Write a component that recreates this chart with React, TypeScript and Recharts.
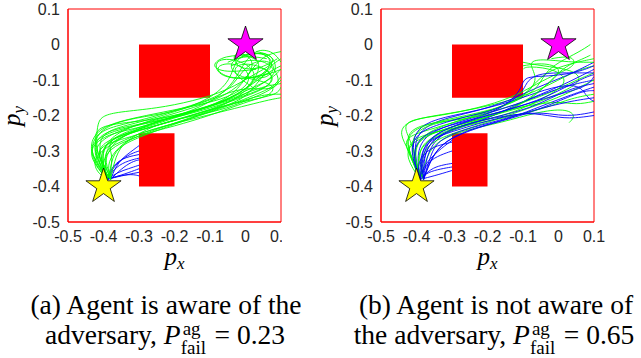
import React from 'react';
import { ComposedChart, Line, Scatter, XAxis, YAxis, ReferenceArea } from 'recharts';

type Pt = [number, number];

const xTicks = [-0.5, -0.4, -0.3, -0.2, -0.1, 0, 0.1];
const yTicks = [-0.5, -0.4, -0.3, -0.2, -0.1, 0, 0.1];

const startPos = [{ x: -0.4, y: -0.4 }];
const goalPos = [{ x: 0, y: 0 }];

// obstacles: [x1, x2, y1, y2]
const obstacles: [number, number, number, number][] = [
  [-0.3, -0.1, -0.15, 0],
  [-0.3, -0.2, -0.4, -0.25],
];

// (a) agent aware of the adversary
const leftBlue: Pt[][] = [
  [[-0.39, -0.38], [-0.35, -0.37], [-0.3, -0.36]],
  [[-0.39, -0.38], [-0.36, -0.36], [-0.33, -0.35], [-0.3, -0.34]],
  [[-0.39, -0.38], [-0.37, -0.35], [-0.34, -0.33], [-0.3, -0.32]],
  [[-0.39, -0.38], [-0.37, -0.34], [-0.33, -0.31], [-0.3, -0.3]],
  [[-0.38, -0.38], [-0.36, -0.33], [-0.32, -0.3], [-0.3, -0.285]],
  [[-0.39, -0.38], [-0.34, -0.365], [-0.3, -0.35]],
  [[-0.38, -0.38], [-0.35, -0.35], [-0.32, -0.33], [-0.3, -0.325]],
  [[-0.39, -0.38], [-0.38, -0.35], [-0.35, -0.32], [-0.3, -0.31]],
  [[-0.39, -0.38], [-0.36, -0.37], [-0.32, -0.365], [-0.3, -0.37]],
];

const leftGreen: Pt[][] = [
  [[-0.39, -0.38], [-0.42, -0.32], [-0.42, -0.22], [-0.4, -0.2], [-0.36, -0.19], [-0.25, -0.18], [-0.15, -0.16], [-0.05, -0.13], [0.03, -0.08], [0.09, -0.05], [0.06, -0.02], [0.0, -0.03], [-0.05, -0.05]],
  [[-0.39, -0.38], [-0.41, -0.33], [-0.4, -0.28], [-0.34, -0.25], [-0.27, -0.23], [-0.18, -0.2], [-0.08, -0.17], [0.0, -0.13], [0.07, -0.1], [0.1, -0.07]],
  [[-0.38, -0.38], [-0.43, -0.31], [-0.41, -0.27], [-0.35, -0.24], [-0.25, -0.21], [-0.15, -0.19], [-0.05, -0.16], [0.04, -0.13], [0.09, -0.1], [0.05, -0.06], [-0.02, -0.05], [-0.04, -0.08], [0.02, -0.12]],
  [[-0.38, -0.37], [-0.4, -0.32], [-0.38, -0.27], [-0.31, -0.245], [-0.22, -0.22], [-0.12, -0.19], [-0.04, -0.17], [0.03, -0.14], [0.08, -0.12], [0.1, -0.09]],
  [[-0.39, -0.37], [-0.42, -0.28], [-0.39, -0.24], [-0.3, -0.22], [-0.2, -0.19], [-0.1, -0.155], [-0.04, -0.1], [-0.03, -0.04], [0.02, -0.02], [0.07, -0.03], [0.08, -0.07], [0.03, -0.09]],
  [[-0.38, -0.38], [-0.37, -0.33], [-0.35, -0.28], [-0.3, -0.255], [-0.2, -0.23], [-0.1, -0.2], [-0.02, -0.17], [0.04, -0.15], [0.09, -0.14], [0.1, -0.12]],
  [[-0.39, -0.38], [-0.43, -0.3], [-0.42, -0.25], [-0.37, -0.23], [-0.28, -0.21], [-0.18, -0.18], [-0.08, -0.15], [-0.03, -0.11], [0.0, -0.06], [0.05, -0.04], [0.09, -0.06], [0.06, -0.1], [0.0, -0.09]],
  [[-0.38, -0.38], [-0.39, -0.34], [-0.37, -0.3], [-0.32, -0.26], [-0.24, -0.22], [-0.14, -0.2], [-0.05, -0.18], [0.02, -0.15], [0.07, -0.13], [0.1, -0.1]],
  [[-0.39, -0.38], [-0.41, -0.31], [-0.38, -0.26], [-0.32, -0.23], [-0.22, -0.2], [-0.12, -0.17], [-0.05, -0.14], [0.0, -0.1], [0.03, -0.05], [-0.01, -0.02], [-0.04, -0.03], [-0.02, -0.07], [0.04, -0.07], [0.09, -0.04]],
  [[-0.38, -0.38], [-0.4, -0.35], [-0.42, -0.3], [-0.39, -0.27], [-0.33, -0.25], [-0.26, -0.22], [-0.16, -0.19], [-0.06, -0.16], [0.01, -0.12], [0.06, -0.08], [0.1, -0.06]],
  [[-0.39, -0.38], [-0.42, -0.33], [-0.44, -0.29], [-0.41, -0.26], [-0.36, -0.24], [-0.27, -0.22], [-0.17, -0.2], [-0.07, -0.17], [0.02, -0.14], [0.08, -0.11], [0.07, -0.07], [0.02, -0.06], [0.0, -0.1]],
  [[-0.39, -0.38], [-0.4, -0.32], [-0.36, -0.26], [-0.28, -0.235], [-0.2, -0.215], [-0.1, -0.185], [-0.02, -0.15], [0.05, -0.11], [0.09, -0.08], [0.08, -0.03], [0.03, -0.02]],
  [[-0.39, -0.38], [-0.41, -0.3], [-0.37, -0.26], [-0.29, -0.24], [-0.19, -0.21], [-0.09, -0.18], [-0.01, -0.16], [0.06, -0.15], [0.09, -0.12], [0.04, -0.1], [-0.03, -0.09], [-0.05, -0.05], [0.0, -0.03], [0.06, -0.04]],
  [[-0.38, -0.38], [-0.42, -0.34], [-0.43, -0.27], [-0.38, -0.24], [-0.3, -0.225], [-0.2, -0.205], [-0.1, -0.175], [-0.03, -0.14], [0.01, -0.08], [0.05, -0.03], [0.1, -0.02]],
  [[-0.39, -0.38], [-0.41, -0.35], [-0.44, -0.3], [-0.42, -0.25], [-0.36, -0.215], [-0.26, -0.2], [-0.16, -0.18], [-0.06, -0.14], [0.0, -0.12], [0.08, -0.13], [0.1, -0.1], [0.07, -0.05], [0.01, -0.04], [-0.04, -0.06]],
  [[-0.38, -0.38], [-0.38, -0.33], [-0.36, -0.29], [-0.31, -0.265], [-0.23, -0.235], [-0.13, -0.2], [-0.05, -0.17], [0.0, -0.15], [0.04, -0.1], [0.08, -0.05], [0.05, -0.02], [-0.01, -0.03]],
  [[-0.39, -0.38], [-0.43, -0.33], [-0.44, -0.27], [-0.4, -0.23], [-0.33, -0.21], [-0.23, -0.19], [-0.13, -0.17], [-0.05, -0.15], [0.02, -0.11], [0.0, -0.06], [-0.06, -0.05], [-0.09, -0.07], [-0.04, -0.1], [0.05, -0.09], [0.1, -0.07]],
  [[-0.38, -0.38], [-0.4, -0.33], [-0.39, -0.29], [-0.34, -0.27], [-0.3, -0.25], [-0.21, -0.225], [-0.11, -0.195], [-0.03, -0.165], [0.05, -0.14], [0.1, -0.14]],
  [[-0.39, -0.38], [-0.42, -0.36], [-0.43, -0.32], [-0.39, -0.29], [-0.35, -0.26], [-0.27, -0.225], [-0.17, -0.195], [-0.07, -0.165], [0.0, -0.13], [0.04, -0.08], [-0.02, -0.04], [-0.09, -0.04], [-0.08, -0.09], [0.0, -0.1], [0.07, -0.08]],
  [[-0.38, -0.38], [-0.39, -0.35], [-0.42, -0.31], [-0.4, -0.28], [-0.32, -0.26], [-0.25, -0.235], [-0.15, -0.21], [-0.07, -0.19], [0.01, -0.17], [0.07, -0.155], [0.1, -0.15]],
  [[-0.39, -0.38], [-0.37, -0.32], [-0.39, -0.28], [-0.36, -0.255], [-0.29, -0.23], [-0.19, -0.2], [-0.11, -0.17], [-0.04, -0.12], [-0.01, -0.06], [0.03, -0.01], [0.08, -0.02], [0.1, -0.05]],
  [[-0.39, -0.38], [-0.41, -0.32], [-0.43, -0.26], [-0.41, -0.23], [-0.34, -0.22], [-0.24, -0.21], [-0.14, -0.185], [-0.04, -0.155], [0.04, -0.12], [0.1, -0.11]],
  [[-0.38, -0.38], [-0.41, -0.34], [-0.38, -0.29], [-0.33, -0.27], [-0.27, -0.245], [-0.18, -0.215], [-0.08, -0.18], [0.0, -0.14], [0.05, -0.06], [0.02, -0.03], [-0.06, -0.03], [-0.1, -0.06], [-0.06, -0.08], [0.03, -0.07]],
  [[-0.39, -0.38], [-0.44, -0.32], [-0.43, -0.28], [-0.38, -0.25], [-0.3, -0.235], [-0.22, -0.21], [-0.12, -0.18], [-0.03, -0.15], [0.03, -0.1], [0.07, -0.06], [0.1, -0.04]],
];

// (b) agent not aware of the adversary
const rightBlue: Pt[][] = [
  [[-0.39, -0.38], [-0.36, -0.35], [-0.33, -0.34], [-0.3, -0.335]],
  [[-0.39, -0.38], [-0.37, -0.33], [-0.33, -0.31], [-0.3, -0.3]],
  [[-0.39, -0.38], [-0.35, -0.37], [-0.3, -0.355]],
  [[-0.39, -0.38], [-0.38, -0.32], [-0.36, -0.27], [-0.3, -0.24], [-0.2, -0.21], [-0.1, -0.16], [0.0, -0.12], [0.06, -0.09], [0.1, -0.07]],
  [[-0.39, -0.38], [-0.4, -0.31], [-0.38, -0.26], [-0.32, -0.23], [-0.22, -0.2], [-0.12, -0.17], [-0.02, -0.13], [0.05, -0.11], [0.1, -0.1]],
  [[-0.38, -0.38], [-0.37, -0.3], [-0.33, -0.25], [-0.25, -0.22], [-0.15, -0.2], [-0.05, -0.19], [0.0, -0.2], [0.05, -0.2], [0.1, -0.19]],
  [[-0.39, -0.38], [-0.41, -0.29], [-0.39, -0.24], [-0.33, -0.21], [-0.24, -0.19], [-0.14, -0.16], [-0.06, -0.12], [0.02, -0.09], [0.1, -0.05]],
  [[-0.38, -0.38], [-0.36, -0.32], [-0.32, -0.27], [-0.24, -0.235], [-0.14, -0.21], [-0.04, -0.17], [0.04, -0.14], [0.1, -0.12]],
  [[-0.39, -0.38], [-0.39, -0.3], [-0.35, -0.25], [-0.27, -0.22], [-0.18, -0.19], [-0.1, -0.14], [-0.09, -0.1], [-0.05, -0.08], [0.02, -0.08], [0.1, -0.08]],
  [[-0.39, -0.38], [-0.42, -0.27], [-0.38, -0.22], [-0.3, -0.2], [-0.2, -0.18], [-0.1, -0.15], [-0.02, -0.12], [0.06, -0.11], [0.08, -0.15], [0.1, -0.16]],
  [[-0.38, -0.38], [-0.35, -0.3], [-0.3, -0.26], [-0.2, -0.225], [-0.1, -0.2], [0.0, -0.16], [0.07, -0.13], [0.1, -0.13]],
  [[-0.39, -0.38], [-0.38, -0.34], [-0.34, -0.3], [-0.3, -0.27]],
  [[-0.38, -0.38], [-0.38, -0.31], [-0.35, -0.26], [-0.28, -0.23], [-0.18, -0.205], [-0.08, -0.18], [0.0, -0.14], [0.05, -0.12], [0.1, -0.11]],
  [[-0.39, -0.38], [-0.37, -0.36], [-0.33, -0.35], [-0.3, -0.345]],
  [[-0.39, -0.38], [-0.4, -0.33], [-0.36, -0.29], [-0.32, -0.28], [-0.3, -0.275]],
  [[-0.39, -0.38], [-0.41, -0.32], [-0.4, -0.27], [-0.35, -0.24], [-0.26, -0.215], [-0.16, -0.19], [-0.08, -0.165], [0.0, -0.14], [0.08, -0.12], [0.1, -0.09]],
  [[-0.38, -0.38], [-0.36, -0.31], [-0.34, -0.27], [-0.27, -0.24], [-0.17, -0.215], [-0.07, -0.185], [0.03, -0.16], [0.1, -0.15]],
  [[-0.39, -0.38], [-0.42, -0.3], [-0.4, -0.25], [-0.34, -0.225], [-0.25, -0.2], [-0.15, -0.18], [-0.1, -0.12], [-0.1, -0.09], [-0.03, -0.09], [0.05, -0.08], [0.1, -0.06]],
  [[-0.39, -0.38], [-0.38, -0.29], [-0.34, -0.245], [-0.25, -0.215], [-0.15, -0.185], [-0.06, -0.16], [0.02, -0.12], [0.08, -0.09], [0.1, -0.085]],
  [[-0.38, -0.38], [-0.39, -0.32], [-0.37, -0.27], [-0.3, -0.245], [-0.2, -0.215], [-0.1, -0.19], [-0.03, -0.2], [0.03, -0.21], [0.1, -0.2]],
];

const rightGreen: Pt[][] = [
  [[-0.39, -0.38], [-0.42, -0.3], [-0.45, -0.25], [-0.43, -0.22], [-0.38, -0.205], [-0.28, -0.19], [-0.18, -0.17], [-0.08, -0.14], [0.0, -0.1], [0.06, -0.07], [0.1, -0.06]],
  [[-0.39, -0.38], [-0.41, -0.33], [-0.44, -0.27], [-0.4, -0.25], [-0.33, -0.23], [-0.23, -0.2], [-0.12, -0.17], [-0.03, -0.14], [0.05, -0.1], [0.1, -0.08]],
  [[-0.38, -0.38], [-0.4, -0.3], [-0.36, -0.26], [-0.28, -0.23], [-0.18, -0.2], [-0.08, -0.16], [-0.02, -0.1], [0.02, -0.06], [0.07, -0.04], [0.09, -0.03]],
  [[-0.39, -0.38], [-0.43, -0.32], [-0.42, -0.28], [-0.36, -0.25], [-0.26, -0.22], [-0.15, -0.19], [-0.06, -0.165], [0.02, -0.13], [0.07, -0.1], [0.04, -0.07], [-0.05, -0.06], [-0.1, -0.05]],
  [[-0.39, -0.38], [-0.37, -0.31], [-0.34, -0.27], [-0.26, -0.24], [-0.16, -0.22], [-0.06, -0.19], [0.02, -0.18], [0.05, -0.2], [0.03, -0.22]],
  [[-0.39, -0.38], [-0.41, -0.3], [-0.38, -0.25], [-0.3, -0.22], [-0.2, -0.19], [-0.1, -0.15], [-0.06, -0.1], [-0.02, -0.07], [0.05, -0.05], [0.1, -0.04]],
  [[-0.38, -0.38], [-0.39, -0.33], [-0.37, -0.28], [-0.3, -0.25], [-0.2, -0.22], [-0.1, -0.185], [0.0, -0.15], [0.06, -0.12], [0.1, -0.1]],
  [[-0.39, -0.38], [-0.42, -0.29], [-0.4, -0.24], [-0.34, -0.22], [-0.24, -0.2], [-0.14, -0.17], [-0.06, -0.13], [-0.04, -0.08], [0.0, -0.05], [0.06, -0.02], [0.09, 0.0]],
  [[-0.39, -0.38], [-0.4, -0.31], [-0.37, -0.27], [-0.3, -0.24], [-0.2, -0.21], [-0.12, -0.19], [-0.04, -0.15], [0.03, -0.11], [0.0, -0.07], [-0.09, -0.06], [-0.1, -0.07]],
  [[-0.39, -0.38], [-0.43, -0.28], [-0.42, -0.24], [-0.36, -0.22], [-0.26, -0.21], [-0.16, -0.19], [-0.08, -0.17], [0.0, -0.16], [0.05, -0.17], [0.1, -0.16]],
  [[-0.38, -0.38], [-0.41, -0.32], [-0.4, -0.27], [-0.33, -0.24], [-0.22, -0.21], [-0.12, -0.18], [-0.04, -0.12], [0.02, -0.07], [-0.04, -0.05], [-0.1, -0.06]],
  [[-0.39, -0.38], [-0.42, -0.31], [-0.43, -0.26], [-0.39, -0.23], [-0.31, -0.21], [-0.21, -0.19], [-0.11, -0.16], [-0.05, -0.1], [-0.09, -0.05], [-0.05, -0.04], [0.03, -0.05], [0.1, -0.05]],
  [[-0.38, -0.38], [-0.4, -0.34], [-0.43, -0.29], [-0.4, -0.26], [-0.32, -0.24], [-0.22, -0.22], [-0.12, -0.2], [-0.04, -0.18], [0.04, -0.15], [0.1, -0.14]],
  [[-0.39, -0.38], [-0.41, -0.28], [-0.44, -0.23], [-0.41, -0.21], [-0.33, -0.2], [-0.23, -0.18], [-0.13, -0.15], [-0.06, -0.11], [0.0, -0.08], [0.05, -0.06], [0.04, -0.03], [-0.02, -0.04]],
];

const toRows = (path: Pt[]) => path.map(([x, y]) => ({ x, y }));

const RED = '#FF0000';
const tickStyle = { fill: '#262626', fontSize: 16, fontFamily: 'Liberation Sans, Arial, sans-serif' };

const starShape = (fill: string) => (props: any) => {
  const { cx, cy } = props;
  const R = 18.5;
  const r = R * 0.382;
  const pts = Array.from({ length: 10 }, (_, i) => {
    const a = -Math.PI / 2 + (i * Math.PI) / 5;
    const rad = i % 2 === 0 ? R : r;
    return `${cx + rad * Math.cos(a)},${cy + rad * Math.sin(a)}`;
  }).join(' ');
  return <polygon points={pts} fill={fill} stroke="#000" strokeWidth={0.8} />;
};

function Panel({ blue, green, width, right, mixed }: { blue: Pt[][]; green: Pt[][]; width: number; right: number; mixed: boolean }) {
  const blueLines = blue.map((p, i) => (
    <Line key={'b' + i} data={toRows(p)} dataKey="y" type="basis" stroke="#0000FF" strokeWidth={0.9} dot={false} activeDot={false} isAnimationActive={false} />
  ));
  const greenLines = green.map((p, i) => (
    <Line key={'g' + i} data={toRows(p)} dataKey="y" type="basis" stroke="#00FF00" strokeWidth={0.9} dot={false} activeDot={false} isAnimationActive={false} />
  ));
  let lines: React.ReactNode[];
  if (mixed) {
    lines = [];
    const n = Math.max(blue.length, green.length);
    for (let i = 0; i < n; i++) {
      if (greenLines[i]) lines.push(greenLines[i]);
      if (blueLines[i]) lines.push(blueLines[i]);
    }
  } else {
    lines = [...blueLines, ...greenLines];
  }
  return (
    <ComposedChart width={width} height={250} margin={{ top: 9, right, bottom: 5, left: 0 }}>
      <XAxis type="number" dataKey="x" domain={[-0.5, 0.1]} ticks={xTicks} interval={0} allowDataOverflow
        tickLine={false} axisLine={{ stroke: RED }} tick={tickStyle} tickMargin={3} height={23} tickFormatter={(v) => String(v)} />
      <YAxis type="number" dataKey="y" domain={[-0.5, 0.1]} ticks={yTicks} interval={0} allowDataOverflow
        tickLine={false} axisLine={{ stroke: RED }} tick={tickStyle} width={68} tickFormatter={(v) => String(v)} />
      {obstacles.map(([x1, x2, y1, y2], i) => (
        <ReferenceArea key={'o' + i} x1={x1} x2={x2} y1={y1} y2={y2} fill={RED} fillOpacity={1} stroke="none" />
      ))}
      {lines}
      <ReferenceArea x1={-0.5} x2={0.1} y1={-0.5} y2={0.1} fill="none" fillOpacity={0} stroke={RED} strokeWidth={1} ifOverflow="visible" />
      <Scatter data={startPos} shape={starShape('#FFFF00')} isAnimationActive={false} />
      <Scatter data={goalPos} shape={starShape('#FF00FF')} isAnimationActive={false} />
    </ComposedChart>
  );
}

const serif = 'Liberation Serif, Times New Roman, serif';

function PFail() {
  return (
    <span style={{ whiteSpace: 'nowrap' }}>
      <i>P</i>
      <span style={{ display: 'inline-block', position: 'relative', width: 27, height: 0 }}>
        <span style={{ position: 'absolute', left: 2, top: -25, fontSize: 19, lineHeight: '19px' }}>ag</span>
        <span style={{ position: 'absolute', left: 0, top: -6, fontSize: 19, lineHeight: '19px' }}>fail</span>
      </span>
    </span>
  );
}

const capLine = (center: number, top: number): React.CSSProperties => ({
  position: 'absolute', left: center - 160, top, width: 320, fontFamily: serif, fontSize: 27.5, lineHeight: '30px',
  color: '#000', textAlign: 'center', whiteSpace: 'nowrap',
});

export default function App() {
  return (
    <div style={{ position: 'absolute', left: 0, top: 0, width: 641, height: 358, background: '#fff', overflow: 'hidden' }}>
      <div style={{ position: 'absolute', left: 0, top: 0, width: 282, height: 250, overflow: 'hidden' }}>
        <Panel blue={leftBlue} green={leftGreen} width={282} right={1} mixed={false} />
      </div>
      <div style={{ position: 'absolute', left: 313, top: 0, width: 300, height: 250 }}>
        <Panel blue={rightBlue} green={rightGreen} width={300} right={19} mixed={true} />
      </div>
      <svg width={641} height={358} style={{ position: 'absolute', left: 0, top: 0, pointerEvents: 'none' }}>
        {[0, 313].map((dx) => (
          <g key={dx} fontFamily={serif} fontStyle="italic" fill="#000">
            <text transform={`translate(${20 + dx},116) rotate(-90)`} textAnchor="middle" fontSize={25}>
              p<tspan fontSize={17} dy={4}>y</tspan>
            </text>
            <text x={174.5 + dx} y={265} textAnchor="middle" fontSize={25}>
              p<tspan fontSize={17} dy={4}>x</tspan>
            </text>
          </g>
        ))}
      </svg>
      <div style={capLine(166, 290)}>(a) Agent is aware of the</div>
      <div style={capLine(165, 320)}>adversary, <PFail /> = 0.23</div>
      <div style={capLine(496, 290)}>(b) Agent is not aware of</div>
      <div style={capLine(494, 320)}>the adversary, <PFail /> = 0.65</div>
    </div>
  );
}
